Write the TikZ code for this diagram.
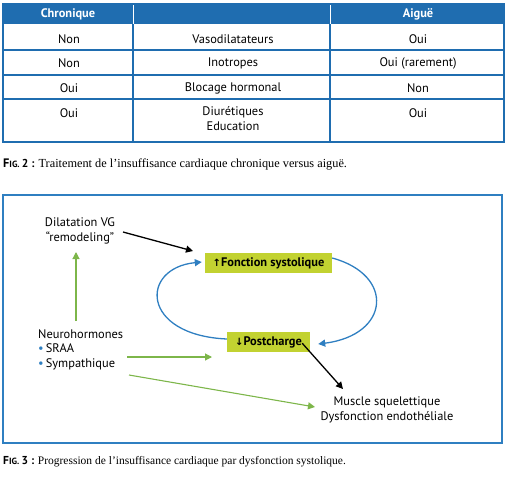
\documentclass[tikz,border=0pt]{standalone}
\usepackage{fontspec}
\setmainfont{Liberation Serif}
\newfontfamily\dg{PT Sans}
\newfontfamily\arr{DejaVu Sans}
\usetikzlibrary{arrows.meta}
\definecolor{tblue}{HTML}{1F6DB0}
\definecolor{lblue}{HTML}{2F7FC1}
\definecolor{tgreen}{HTML}{7DB64A}
\definecolor{tyel}{HTML}{C2D231}
\newcommand{\bdot}{{\color{lblue}\textbullet}}
\begin{document}
\begin{tikzpicture}[x=1pt,y=-1pt,
  cell/.style={font=\dg\fontsize{12.4}{15}\selectfont,inner sep=0pt,align=center},
  hcell/.style={font=\dg\bfseries\fontsize{12.4}{15}\selectfont,text=white,inner sep=0pt},
  txt/.style={font=\dg\fontsize{12.4}{14.5}\selectfont,inner sep=0pt,align=left},
  ybox/.style={fill=tyel,font=\dg\bfseries\fontsize{12.4}{15}\selectfont,minimum height=20pt,inner sep=0pt},
  figcap/.style={font=\fontsize{11.5}{13}\selectfont,inner sep=0pt,anchor=west},
  ga/.style={draw=tgreen,line width=1.1pt,-{Triangle[length=7pt,width=7pt]}},
  ba/.style={draw=black,line width=1.3pt,-{Triangle[length=7pt,width=7pt]}},
  la/.style={draw=lblue,line width=1.3pt,-{Triangle[length=7pt,width=7pt]}}]
\useasboundingbox (0,0) rectangle (508,477);
% ---------- table ----------
\fill[tblue] (3,4) rectangle (504,24);
\draw[white,line width=0.8pt] (133,4) -- (133,24) (330,4) -- (330,24);
\draw[tblue,line width=1.2pt] (3,4) rectangle (504,142);
\draw[tblue,line width=1.2pt] (3,50) -- (504,50) (3,75) -- (504,75) (3,99) -- (504,99);
\draw[tblue,line width=1.2pt] (133,24) -- (133,142) (330,24) -- (330,142);
\node[hcell] (h1) at (68,14) {Chronique};
\node[hcell] (h3) at (418,14) {Aiguë};
\node[cell] (a1) at (69,39) {Non};
\node[cell] (b1) at (233,39) {Vasodilatateurs};
\node[cell] (c1) at (418,39) {Oui};
\node[cell] (a2) at (69,63) {Non};
\node[cell] (b2) at (233,63) {Inotropes};
\node[cell] (c2) at (418,63) {Oui (rarement)};
\node[cell] (a3) at (69,88) {Oui};
\node[cell] (b3) at (233,88) {Blocage hormonal};
\node[cell] (c3) at (418,88) {Non};
\node[cell] (a4) at (69,113) {Oui};
\node[cell,anchor=north] (b4) at (233,106) {Diurétiques\\Education};
\node[cell] (c4) at (418,113) {Oui};
% caption 2
\node[figcap,font=\fontsize{12.3}{14}\selectfont] (cap2) at (3,164) {{\dg\bfseries F\fontsize{9}{11}\selectfont IG. \fontsize{11.5}{13}\selectfont 2 :} Traitement de l'insuffisance cardiaque chronique versus aiguë.};
% ---------- figure 3 ----------
\draw[lblue,line width=1.2pt] (3,195) rectangle (502,443);
\node[txt,align=center] (dil) at (80,231) {Dilatation VG\\“remodeling”};
\node[ybox,minimum width=127pt] (fonc) at (268.5,263) {{\arr\bfseries\fontsize{10}{12}\selectfont ↑}Fonction systolique};
\node[ybox,minimum width=83pt] (post) at (268.5,342) {{\arr\bfseries\fontsize{10}{12}\selectfont ↓}Postcharge};
\node[txt,anchor=north west] (neu) at (38,329) {Neurohormones\\\bdot\,SRAA\\\bdot\,Sympathique};
\node[txt,align=center] (mus) at (387,410) {Muscle squelettique\\Dysfonction endothéliale};
\coordinate (tipD) at (193,251);
\coordinate (tipM) at (343,389);
\coordinate (tipG) at (315,407);
\coordinate (tipS) at (212,357);
\coordinate (tipV) at (76,252);
% connectors
\draw[ga] (76,321) -- (tipV);
\draw[ga] (127,357) -- (tipS);
\draw[ga] (129,375) -- (tipG);
\draw[ba] (123,232) -- (tipD);
\draw[ba] ([xshift=-8pt,yshift=9pt]post.south east) -- (tipM);
\draw[la] ([yshift=3pt]post.west) .. controls (140,335) and (140,268) .. ([xshift=-3pt,yshift=1pt]fonc.west);
\draw[la] ([yshift=5pt]fonc.east) .. controls (395,275) and (390,335) .. ([xshift=8pt,yshift=-2pt]post.east);
% caption 3
\node[figcap] (cap3) at (3,462) {{\dg\bfseries F\fontsize{9}{11}\selectfont IG. \fontsize{11.5}{13}\selectfont 3 :} Progression de l'insuffisance cardiaque par dysfonction systolique.};
\end{tikzpicture}
\end{document}
